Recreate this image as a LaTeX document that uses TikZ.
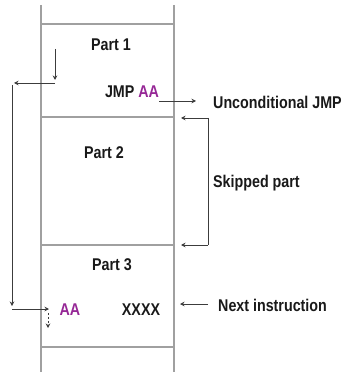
\documentclass[tikz,border=0pt]{standalone}
\usepackage{fontspec}
\setmainfont{Liberation Sans}
\usetikzlibrary{arrows.meta}
\definecolor{aapurple}{RGB}{150,40,150}
\definecolor{framegray}{RGB}{160,160,160}
\definecolor{arrowgray}{RGB}{60,60,60}
\newcommand{\narrowtxt}[1]{\scalebox{0.84}[1]{#1}}
\tikzset{
  frameline/.style={draw=framegray, line width=1.6pt},
  conn/.style={draw=arrowgray, line width=0.9pt, -{Stealth[length=4.5pt,width=4.5pt]}},
  plainconn/.style={draw=arrowgray, line width=0.9pt},
  lbl/.style={inner sep=0pt, font=\fontsize{17}{19}\selectfont\bfseries, text=black!90},
}
\begin{document}
\begin{tikzpicture}[x=1pt,y=-1pt]
\useasboundingbox (0,0) rectangle (346,379);
% frame
\coordinate (lt) at (41,5);   \coordinate (lb) at (41,372);
\coordinate (rt) at (174,5);  \coordinate (rb) at (174,372);
\draw[frameline] (lt) -- (lb);
\draw[frameline] (rt) -- (rb);
\foreach \yy/\nm in {24/h1,117/h2,245/h3,347/h4}{
  \coordinate (\nm l) at (41,\yy);
  \coordinate (\nm r) at (174,\yy);
  \draw[frameline] (\nm l) -- (\nm r);
}
% labels
\node[lbl] (p1) at (111,45) {\narrowtxt{Part 1}};
\node[lbl] (jmp) at (132,92) {\narrowtxt{JMP \textcolor{aapurple}{AA}}};
\node[lbl] (p2) at (104,153) {\narrowtxt{Part 2}};
\node[lbl] (p3) at (112,265) {\narrowtxt{Part 3}};
\node[lbl, text=aapurple] (aa) at (70,310) {\narrowtxt{AA}};
\node[lbl] (xx) at (141,310) {\narrowtxt{XXXX}};
\node[lbl, anchor=west] (uj) at (213,102) {\narrowtxt{Unconditional JMP}};
\node[lbl, anchor=west] (sk) at (213,183) {\narrowtxt{Skipped part}};
\node[lbl, anchor=west] (ni) at (218,305) {\narrowtxt{Next instruction}};
% JMP arrow
\coordinate (j0) at (159,101); \coordinate (j1) at (196,101);
\draw[conn] (j0) -- (j1);
% skipped bracket
\coordinate (s0) at (208,118); \coordinate (s0h) at (181,118);
\coordinate (s1) at (208,245); \coordinate (s1h) at (181,245);
\draw[plainconn] (s0) -- (s1);
\draw[conn] (s0) -- (s0h);
\draw[conn] (s1) -- (s1h);
% next instruction
\coordinate (n0) at (208,304); \coordinate (n1) at (180,304);
\draw[conn] (n0) -- (n1);
% loop
\coordinate (a0) at (55,49);  \coordinate (a1) at (55,80);
\coordinate (a2) at (55,83);  \coordinate (a3) at (14,83);
\coordinate (a4) at (12,85);  \coordinate (a5) at (12,306);
\coordinate (a6) at (12,309); \coordinate (a7) at (49,309);
\coordinate (a8) at (48,313); \coordinate (a9) at (48,328);
\draw[conn] (a0) -- (a1);
\draw[conn] (a2) -- (a3);
\draw[conn] (a4) -- (a5);
\draw[conn] (a6) -- (a7);
\draw[conn, dash pattern=on 2pt off 2pt] (a8) -- (a9);
\end{tikzpicture}
\end{document}
